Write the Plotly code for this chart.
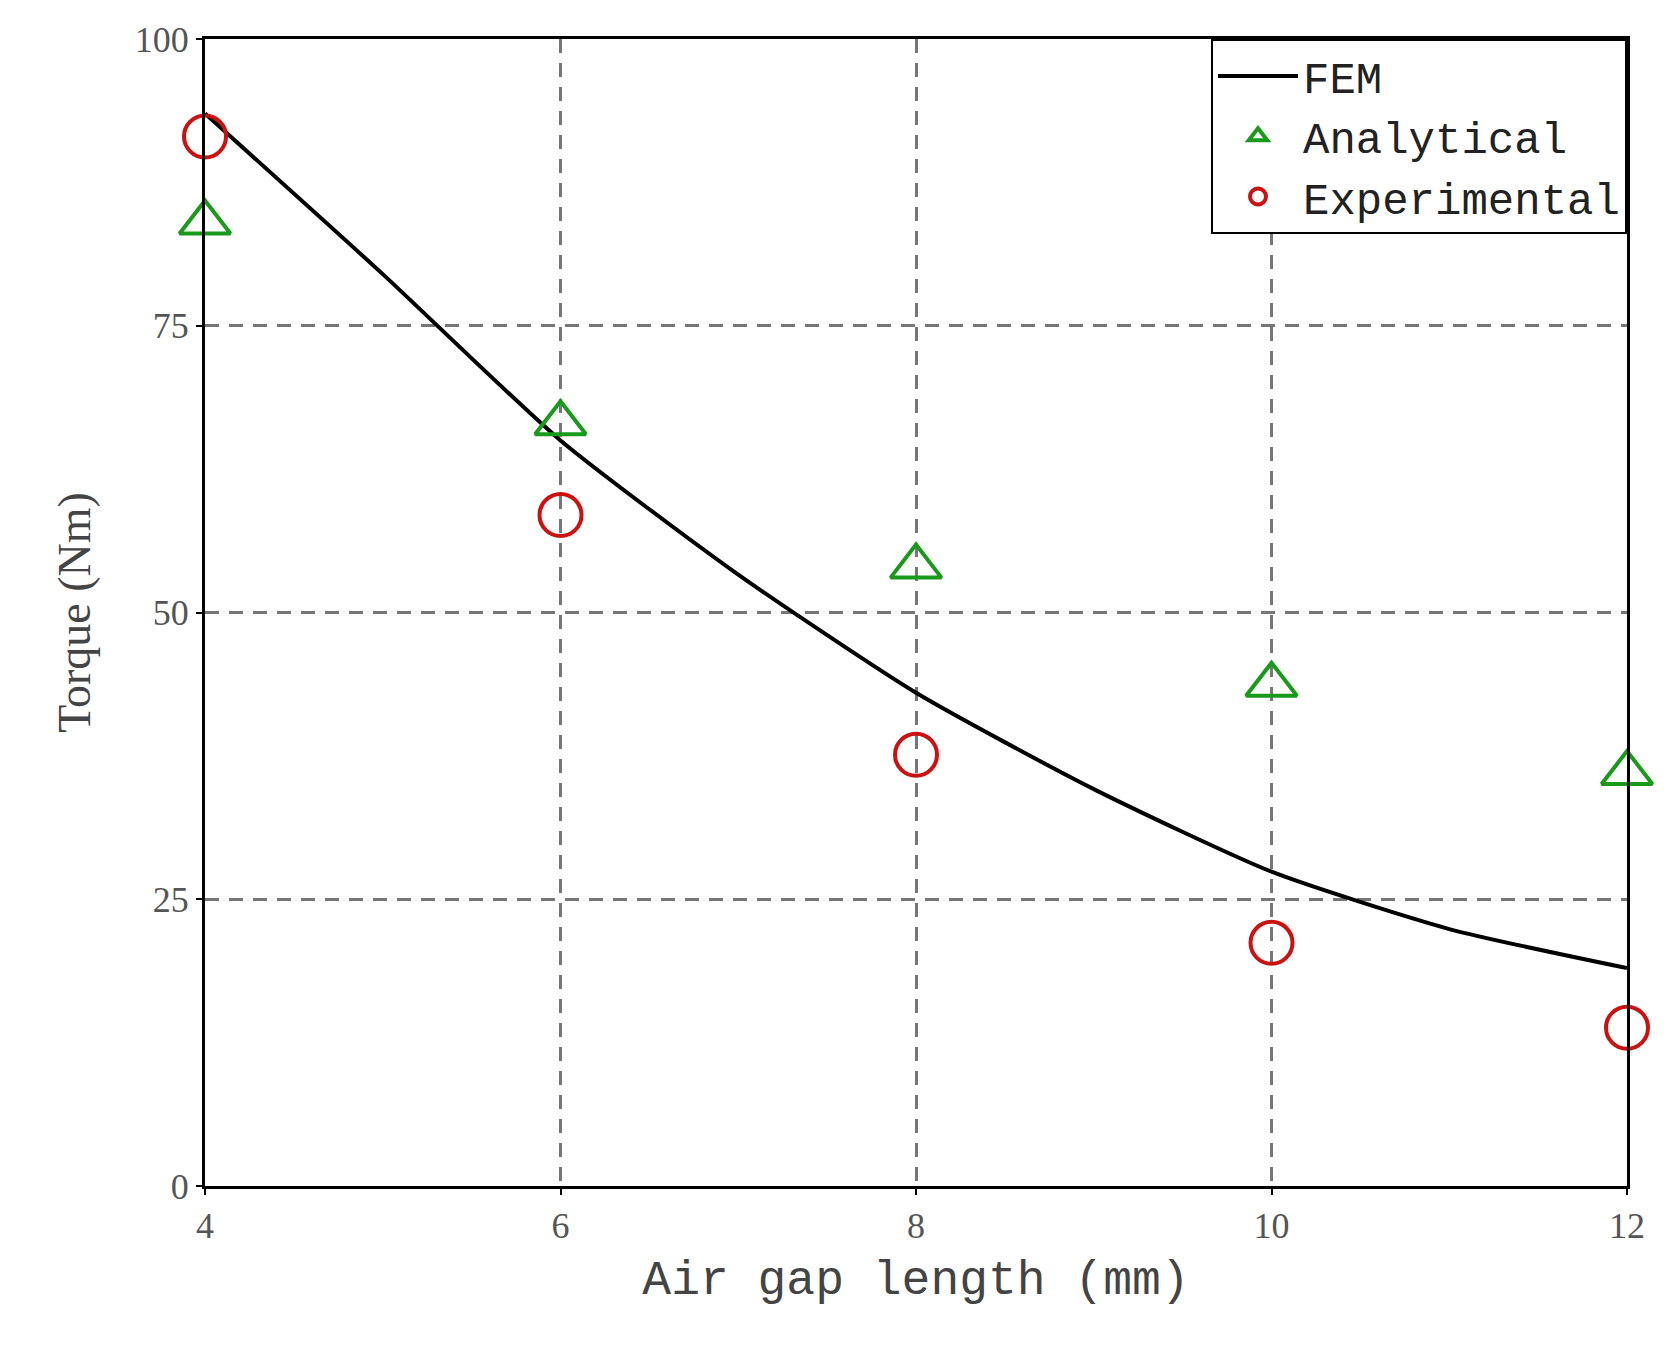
import plotly.graph_objects as go

# values
gap_fem = [4, 5, 6, 7, 8, 9, 10, 11, 12]
torque_fem = [93.5, 79.5, 65.0, 53.3, 43.0, 34.6, 27.4, 22.4, 19.0]

gap_pts = [4, 6, 8, 10, 12]
torque_analytical = [84.0, 66.5, 54.0, 43.7, 36.0]
torque_experimental = [91.5, 58.5, 37.6, 21.2, 13.8]

x_ticks = [4, 6, 8, 10, 12]
y_ticks = [0, 25, 50, 75, 100]

fig = go.Figure()
fig.add_trace(go.Scatter(x=gap_fem, y=torque_fem, mode="lines", name="FEM",
                         line=dict(color="black", width=4, shape="spline", smoothing=0.6)))
fig.add_trace(go.Scatter(x=gap_pts, y=torque_analytical, mode="markers", name="Analytical",
                         marker=dict(symbol="triangle-up-open", size=44, color="#1a9a1a",
                                     line=dict(width=4)), cliponaxis=False))
fig.add_trace(go.Scatter(x=gap_pts, y=torque_experimental, mode="markers", name="Experimental",
                         marker=dict(symbol="circle-open", size=42, color="#cc1111",
                                     line=dict(width=4)), cliponaxis=False))

axis_common = dict(showline=True, linecolor="black", linewidth=3, mirror=True,
                   showgrid=True, gridcolor="#777777", gridwidth=3, griddash="14px,10px",
                   ticks="outside", ticklen=6, tickwidth=2, tickcolor="black", zeroline=False,
                   tickfont=dict(family="Liberation Serif", size=36, color="#555555"))

fig.update_xaxes(range=[4, 12], tickvals=x_ticks,
                 title=dict(text="Air gap length (mm)", standoff=16,
                            font=dict(family="Liberation Mono", size=48, color="#444444")),
                 **axis_common)
fig.update_yaxes(range=[0, 100], tickvals=y_ticks,
                 title=dict(text="Torque (Nm)", standoff=30,
                            font=dict(family="Liberation Serif", size=46, color="#444444")),
                 **axis_common)

fig.update_layout(
    width=1674, height=1372,
    margin=dict(l=197, r=55, t=31, b=194),
    plot_bgcolor="white", paper_bgcolor="white",
    showlegend=True,
    legend=dict(x=1, y=1, xanchor="right", yanchor="top", bgcolor="white",
                bordercolor="black", borderwidth=2, itemwidth=80,
                font=dict(family="Liberation Mono", size=44, color="#222222")),
)

fig.write_html("out.html")
